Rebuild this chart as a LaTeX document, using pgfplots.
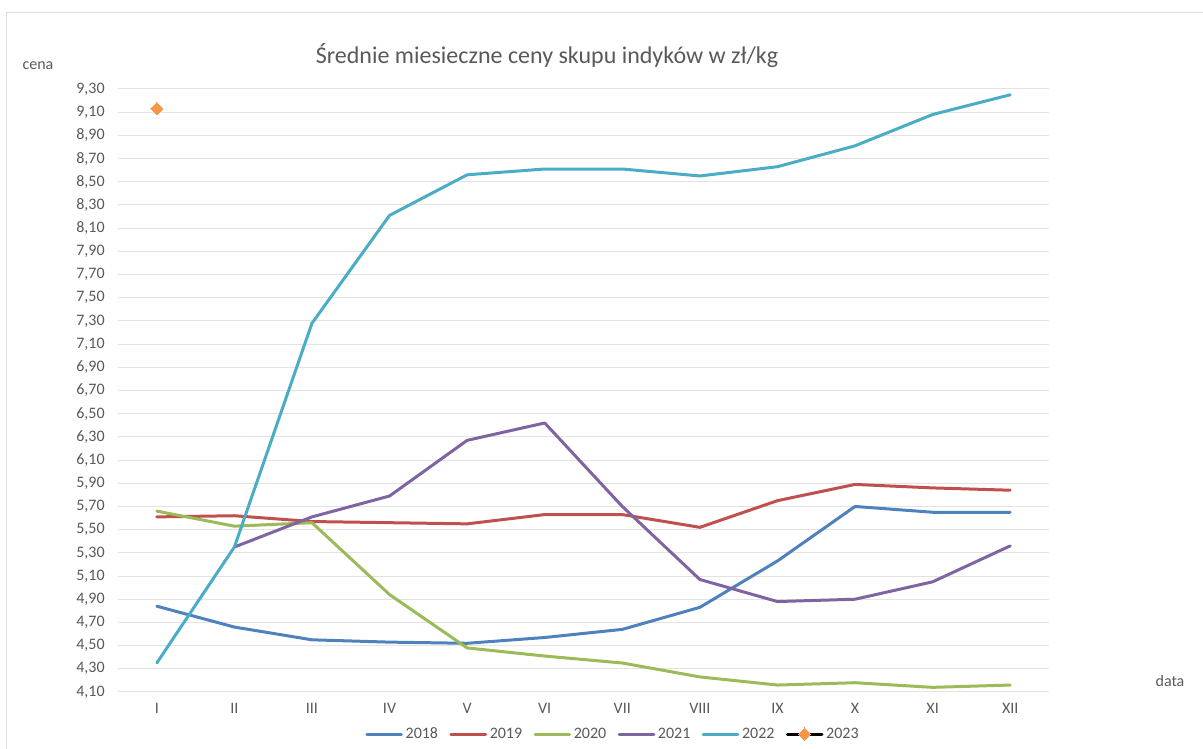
\documentclass[border=0pt]{standalone}
\usepackage{pgfplots}
\pgfplotsset{compat=1.18}
\usepackage{fontspec}
\setmainfont{Carlito}

\definecolor{txt}{HTML}{595959}
\definecolor{c18}{HTML}{4F81BD}
\definecolor{c19}{HTML}{C0504D}
\definecolor{c20}{HTML}{9BBB59}
\definecolor{c21}{HTML}{8064A2}
\definecolor{c22}{HTML}{4BACC6}
\definecolor{c23}{HTML}{F79646}

\begin{document}
\begin{tikzpicture}
% page frame, 1203x749 px at 0.75pt per px
\path[use as bounding box] (0pt,0pt) rectangle (902.25pt,561.75pt);
\draw[gray!25, line width=0.75pt] (4.875pt,0pt) -- (4.875pt,552.4pt) -- (902.25pt,552.4pt);

\node[txt, font=\fontsize{18}{21}\selectfont] at (410.25pt,519.75pt) {Średnie miesieczne ceny skupu indyków w zł/kg};
\node[txt, font=\fontsize{12}{14}\selectfont] at (28.5pt,512.25pt) {cena};
\node[txt, font=\fontsize{12}{14}\selectfont] at (877.5pt,51pt) {data};

\begin{axis}[
    at={(88.5pt,42.75pt)}, anchor=south west,
    scale only axis,
    width=698.25pt, height=452.25pt,
    xmin=0.5, xmax=12.5,
    ymin=4.1, ymax=9.3,
    xtick={1,...,12},
    xticklabels={I,II,III,IV,V,VI,VII,VIII,IX,X,XI,XII},
    ytick={4.1,4.3,...,9.31},
    ymajorgrids,
    major grid style={gray!22, line width=0.75pt},
    axis line style={draw=none},
    major tick length=0pt,
    tick label style={txt, font=\fontsize{12}{14}\selectfont},
    xticklabel style={yshift=-5pt},
    yticklabel style={xshift=-6.5pt},
    /pgf/number format/.cd, fixed, fixed zerofill, precision=2, use comma, assume math mode=true,
    /pgfplots/.cd,
    every axis plot/.append style={line width=2.25pt, line join=round, line cap=round},
    legend style={draw=none, at={(0.532,-0.0697)}, anchor=center,
        legend columns=6, font=\fontsize{12}{14}\selectfont, text=txt,
        inner sep=0pt, row sep=0pt,
        /tikz/every odd column/.append style={column sep=0pt},
        /tikz/every even column/.append style={column sep=6.5pt}},
    legend cell align=left,
    legend image code/.code={\draw[mark repeat=2,mark phase=2,#1] plot coordinates {(0pt,0pt) (13pt,0pt) (26pt,0pt)};},
]
\addplot[c18, no marks] coordinates {(1,4.84)(2,4.66)(3,4.55)(4,4.53)(5,4.52)(6,4.57)(7,4.64)(8,4.83)(9,5.23)(10,5.70)(11,5.65)(12,5.65)};
\addlegendentry{2018}
\addplot[c19, no marks] coordinates {(1,5.61)(2,5.62)(3,5.57)(4,5.56)(5,5.55)(6,5.63)(7,5.63)(8,5.52)(9,5.75)(10,5.89)(11,5.86)(12,5.84)};
\addlegendentry{2019}
\addplot[c20, no marks] coordinates {(1,5.66)(2,5.53)(3,5.56)(4,4.94)(5,4.48)(6,4.41)(7,4.35)(8,4.23)(9,4.16)(10,4.18)(11,4.14)(12,4.16)};
\addlegendentry{2020}
\addplot[c21, no marks] coordinates {(2,5.35)(3,5.61)(4,5.79)(5,6.27)(6,6.42)(7,5.70)(8,5.07)(9,4.88)(10,4.90)(11,5.05)(12,5.36)};
\addlegendentry{2021}
\addplot[c22, no marks] coordinates {(1,4.35)(2,5.35)(3,7.28)(4,8.21)(5,8.56)(6,8.61)(7,8.61)(8,8.55)(9,8.63)(10,8.81)(11,9.08)(12,9.25)};
\addlegendentry{2022}
\addplot[black, mark=square*, mark size=3.2pt, mark options={draw=c23, fill=c23, rotate=45, line width=0pt}] coordinates {(1,9.13)};
\addlegendentry{2023}
\end{axis}
\end{tikzpicture}
\end{document}
